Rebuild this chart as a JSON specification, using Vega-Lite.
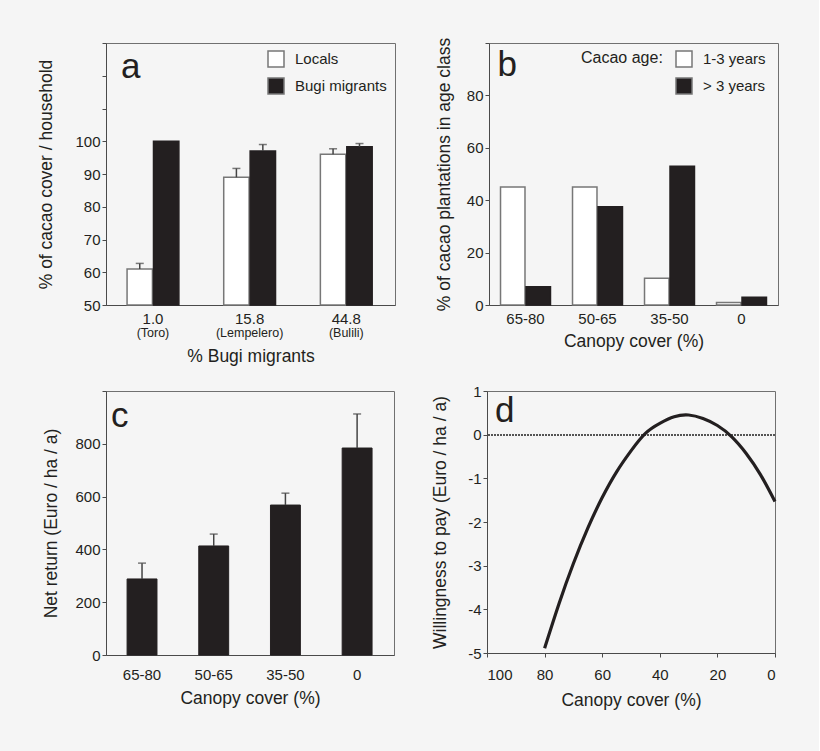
{
  "$schema": "https://vega.github.io/schema/vega-lite/v6.json",
  "background": "#f5f5f5",
  "padding": {"left": 37, "top": 35, "right": 37, "bottom": 45},
  "config": {
    "font": "Liberation Sans",
    "view": {"stroke": "#707070", "strokeWidth": 1},
    "axis": {
      "grid": false,
      "domainColor": "#4a4a4a",
      "tickColor": "#4a4a4a",
      "labelColor": "#231f20",
      "titleColor": "#231f20",
      "labelFontSize": 15,
      "titleFontSize": 17.5,
      "titleFontWeight": "normal",
      "tickSize": 4,
      "labelPadding": 2,
      "labelOverlap": false
    },
    "axisX": {"labelAngle": 0},
    "legend": {
      "labelFontSize": 15,
      "labelColor": "#231f20",
      "symbolType": "square",
      "symbolSize": 256,
      "symbolStrokeColor": "#777777",
      "symbolStrokeWidth": 1.5,
      "rowPadding": 5,
      "labelOffset": 10,
      "titleFontSize": 16,
      "titleFontWeight": "normal",
      "titleColor": "#231f20"
    }
  },
  "spacing": 18,
  "resolve": {"scale": {"fill": "independent", "xOffset": "independent"}},
  "vconcat": [
    {
      "spacing": 38,
      "resolve": {"scale": {"fill": "independent", "xOffset": "independent"}},
      "hconcat": [
        {
          "width": 289,
          "height": 262,
          "data": {"values": [
            {"migrants": "1.0", "group": "Locals", "pct": 61, "err": 62.7},
            {"migrants": "1.0", "group": "Bugi migrants", "pct": 100, "err": null},
            {"migrants": "15.8", "group": "Locals", "pct": 89, "err": 91.7},
            {"migrants": "15.8", "group": "Bugi migrants", "pct": 97, "err": 99},
            {"migrants": "44.8", "group": "Locals", "pct": 96, "err": 97.7},
            {"migrants": "44.8", "group": "Bugi migrants", "pct": 98.3, "err": 99.3}
          ]},
          "encoding": {
            "x": {
              "field": "migrants", "type": "nominal", "title": "% Bugi migrants",
              "scale": {"paddingInner": 0.464, "paddingOuter": 0.227, "align": 0.48},
              "axis": {"ticks": false, "labelPadding": 6, "titlePadding": 21}
            }
          },
          "layer": [
            {
              "mark": {"type": "bar", "strokeWidth": 1.5},
              "encoding": {
                "xOffset": {"field": "group", "sort": ["Locals", "Bugi migrants"], "scale": {"paddingInner": 0.04}},
                "y": {
                  "field": "pct", "type": "quantitative", "title": "% of cacao cover / household",
                  "scale": {"domain": [50, 130], "nice": false},
                  "axis": {"values": [50, 60, 70, 80, 90, 100, 110, 120, 130], "labelExpr": "datum.value <= 100 ? datum.label : ''", "labelOverlap": false, "titlePadding": 19}
                },
                "y2": {"datum": 50},
                "fill": {
                  "field": "group", "type": "nominal",
                  "scale": {"domain": ["Locals", "Bugi migrants"], "range": ["#ffffff", "#231f20"]},
                  "legend": {"title": null, "orient": "none", "legendX": 161, "legendY": 7}
                },
                "stroke": {"condition": {"test": "datum.group == 'Locals'", "value": "#777777"}, "value": "#231f20"}
              }
            },
            {
              "transform": [{"filter": "datum.err != null"}],
              "mark": {"type": "rule", "strokeWidth": 1.5, "color": "#444444"},
              "encoding": {
                "xOffset": {"field": "group", "sort": ["Locals", "Bugi migrants"]},
                "y": {
                  "field": "pct", "type": "quantitative", "title": "% of cacao cover / household",
                  "axis": {"values": [50, 60, 70, 80, 90, 100, 110, 120, 130], "labelExpr": "datum.value <= 100 ? datum.label : ''", "labelOverlap": false, "titlePadding": 19}
                },
                "y2": {"field": "err"}
              }
            },
            {
              "transform": [{"filter": "datum.err != null"}],
              "mark": {"type": "tick", "orient": "horizontal", "size": 8, "thickness": 1.5, "color": "#444444"},
              "encoding": {
                "xOffset": {"field": "group", "sort": ["Locals", "Bugi migrants"]},
                "y": {
                  "field": "err", "type": "quantitative", "title": "% of cacao cover / household",
                  "axis": {"values": [50, 60, 70, 80, 90, 100, 110, 120, 130], "labelExpr": "datum.value <= 100 ? datum.label : ''", "labelOverlap": false, "titlePadding": 19}
                }
              }
            },
            {
              "data": {"values": [
                {"migrants": "1.0", "site": "(Toro)"},
                {"migrants": "15.8", "site": "(Lempelero)"},
                {"migrants": "44.8", "site": "(Bulili)"}
              ]},
              "mark": {"type": "text", "dy": 28, "fontSize": 12.5, "color": "#231f20"},
              "encoding": {
                "y": {
                  "datum": 50, "type": "quantitative", "title": "% of cacao cover / household",
                  "axis": {"values": [50, 60, 70, 80, 90, 100, 110, 120, 130], "labelExpr": "datum.value <= 100 ? datum.label : ''", "labelOverlap": false, "titlePadding": 19}
                },
                "text": {"field": "site"}
              }
            },
            {
              "data": {"values": [{"panel": "a"}]},
              "mark": {"type": "text", "align": "left", "baseline": "top", "fontSize": 35, "dx": -32, "dy": 7, "color": "#231f20"},
              "encoding": {
                "x": {"datum": "1.0", "type": "nominal"},
                "y": {
                  "datum": 130, "type": "quantitative", "title": "% of cacao cover / household",
                  "axis": {"values": [50, 60, 70, 80, 90, 100, 110, 120, 130], "labelExpr": "datum.value <= 100 ? datum.label : ''", "labelOverlap": false, "titlePadding": 19}
                },
                "text": {"field": "panel"}
              }
            }
          ]
        },
        {
          "width": 289,
          "height": 262,
          "data": {"values": [
            {"cover": "65-80", "age": "1-3 years", "pct": 45},
            {"cover": "65-80", "age": "> 3 years", "pct": 7},
            {"cover": "50-65", "age": "1-3 years", "pct": 45},
            {"cover": "50-65", "age": "> 3 years", "pct": 37.5},
            {"cover": "35-50", "age": "1-3 years", "pct": 10.2},
            {"cover": "35-50", "age": "> 3 years", "pct": 53},
            {"cover": "0", "age": "1-3 years", "pct": 1},
            {"cover": "0", "age": "> 3 years", "pct": 3}
          ]},
          "encoding": {
            "x": {
              "field": "cover", "type": "nominal", "title": "Canopy cover (%)",
              "sort": ["65-80", "50-65", "35-50", "0"],
              "scale": {"paddingInner": 0.306, "paddingOuter": 0.16},
              "axis": {"ticks": false, "labelPadding": 6, "titlePadding": 6}
            }
          },
          "layer": [
            {
              "mark": {"type": "bar", "strokeWidth": 1.5},
              "encoding": {
                "xOffset": {"field": "age", "sort": ["1-3 years", "> 3 years"], "scale": {"paddingInner": 0.04}},
                "y": {
                  "field": "pct", "type": "quantitative", "title": "% of cacao plantations in age class",
                  "scale": {"domain": [0, 100], "nice": false},
                  "axis": {"values": [0, 20, 40, 60, 80, 100], "labelExpr": "datum.value <= 80 ? datum.label : ''", "titlePadding": 13}
                },
                "fill": {
                  "field": "age", "type": "nominal",
                  "scale": {"domain": ["1-3 years", "> 3 years"], "range": ["#ffffff", "#231f20"]},
                  "legend": {"title": "Cacao age:", "titleOrient": "left", "titleAnchor": "start", "titlePadding": 12, "orient": "none", "legendX": 92, "legendY": 7}
                },
                "stroke": {"condition": {"test": "datum.age == '1-3 years'", "value": "#777777"}, "value": "#231f20"}
              }
            },
            {
              "data": {"values": [{"panel": "b"}]},
              "mark": {"type": "text", "align": "left", "baseline": "top", "fontSize": 35, "dx": -28, "dy": 5, "color": "#231f20"},
              "encoding": {
                "x": {"datum": "65-80", "type": "nominal"},
                "y": {"datum": 100, "type": "quantitative", "title": "% of cacao plantations in age class"},
                "text": {"field": "panel"}
              }
            }
          ]
        }
      ]
    },
    {
      "spacing": 36,
      "resolve": {"scale": {"fill": "independent", "xOffset": "independent"}},
      "hconcat": [
        {
          "width": 288,
          "height": 264,
          "data": {"values": [
            {"cover": "65-80", "ret": 288, "err": 348},
            {"cover": "50-65", "ret": 413, "err": 458},
            {"cover": "35-50", "ret": 568, "err": 613},
            {"cover": "0", "ret": 784, "err": 913}
          ]},
          "encoding": {
            "x": {
              "field": "cover", "type": "nominal", "title": "Canopy cover (%)",
              "sort": ["65-80", "50-65", "35-50", "0"],
              "scale": {"paddingInner": 0.583, "paddingOuter": 0.3, "align": 0.49},
              "axis": {"ticks": false, "labelPadding": 12, "titlePadding": 7}
            }
          },
          "layer": [
            {
              "mark": {"type": "bar", "fill": "#231f20", "stroke": "#231f20", "strokeWidth": 1},
              "encoding": {
                "y": {
                  "field": "ret", "type": "quantitative", "title": "Net return (Euro / ha / a)",
                  "scale": {"domain": [0, 1000], "nice": false},
                  "axis": {"values": [0, 200, 400, 600, 800, 1000], "labelExpr": "datum.value <= 800 ? datum.label : ''", "titlePadding": 14}
                }
              }
            },
            {
              "mark": {"type": "rule", "strokeWidth": 1.5, "color": "#444444"},
              "encoding": {
                "y": {"field": "ret", "type": "quantitative", "title": "Net return (Euro / ha / a)"},
                "y2": {"field": "err"}
              }
            },
            {
              "mark": {"type": "tick", "orient": "horizontal", "size": 8, "thickness": 1.5, "color": "#444444"},
              "encoding": {
                "y": {"field": "err", "type": "quantitative", "title": "Net return (Euro / ha / a)"}
              }
            },
            {
              "data": {"values": [{"panel": "c"}]},
              "mark": {"type": "text", "align": "left", "baseline": "top", "fontSize": 35, "dx": -31, "dy": 8, "color": "#231f20"},
              "encoding": {
                "x": {"datum": "65-80", "type": "nominal"},
                "y": {"datum": 1000, "type": "quantitative", "title": "Net return (Euro / ha / a)"},
                "text": {"field": "panel"}
              }
            }
          ]
        },
        {
          "width": 288,
          "height": 262,
          "data": {"values": [
            {"cover": 80, "wtp": -4.89},
            {"cover": 75, "wtp": -3.87},
            {"cover": 70, "wtp": -2.95},
            {"cover": 65, "wtp": -2.14},
            {"cover": 60, "wtp": -1.44},
            {"cover": 55, "wtp": -0.85},
            {"cover": 50, "wtp": -0.37},
            {"cover": 45, "wtp": 0.03},
            {"cover": 40, "wtp": 0.26},
            {"cover": 35, "wtp": 0.41},
            {"cover": 30, "wtp": 0.45},
            {"cover": 25, "wtp": 0.37},
            {"cover": 20, "wtp": 0.21},
            {"cover": 15, "wtp": -0.05},
            {"cover": 10, "wtp": -0.43},
            {"cover": 5, "wtp": -0.92},
            {"cover": 0, "wtp": -1.53}
          ]},
          "layer": [
            {
              "mark": {"type": "rule", "color": "#555555", "strokeWidth": 1.5, "strokeDash": [1.5, 1.5]},
              "encoding": {"y": {"datum": 0, "type": "quantitative", "title": "Willingness to pay (Euro / ha / a)"}}
            },
            {
              "mark": {"type": "line", "color": "#231f20", "strokeWidth": 3.2, "interpolate": "natural"},
              "encoding": {
                "x": {
                  "field": "cover", "type": "quantitative", "title": "Canopy cover (%)",
                  "scale": {"domain": [0, 100], "reverse": true, "nice": false},
                  "axis": {"values": [0, 20, 40, 60, 80, 100], "labelPadding": 10, "titlePadding": 9}
                },
                "y": {
                  "field": "wtp", "type": "quantitative", "title": "Willingness to pay (Euro / ha / a)",
                  "scale": {"domain": [-5, 1], "nice": false},
                  "axis": {"values": [-5, -4, -3, -2, -1, 0, 1], "labelExpr": "datum.value < 0 ? '-' + abs(datum.value) : datum.label", "titlePadding": 18}
                }
              }
            },
            {
              "data": {"values": [{"panel": "d"}]},
              "mark": {"type": "text", "align": "left", "baseline": "top", "fontSize": 35, "dx": 8, "dy": 3, "color": "#231f20"},
              "encoding": {
                "x": {"datum": 100, "type": "quantitative", "title": "Canopy cover (%)"},
                "y": {"datum": 1, "type": "quantitative", "title": "Willingness to pay (Euro / ha / a)"},
                "text": {"field": "panel"}
              }
            }
          ]
        }
      ]
    }
  ]
}
